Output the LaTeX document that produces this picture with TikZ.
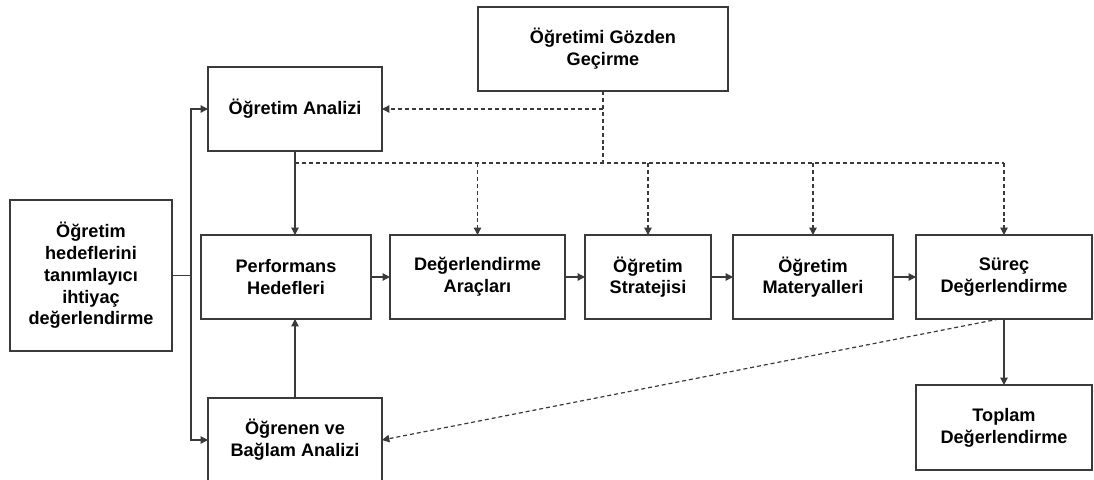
\documentclass[tikz,border=0pt]{standalone}
\usepackage{fontspec}
\setmainfont{Liberation Sans}
\usetikzlibrary{arrows.meta,calc}
\definecolor{ink}{HTML}{3A3A3A}
\begin{document}
\begin{tikzpicture}[x=0.75pt,y=-0.75pt,
  box/.style={draw=ink,line width=1.1pt,fill=white,inner sep=0pt,outer sep=0pt,
    align=center,minimum height=63pt,
    font=\fontsize{13.6pt}{16.3pt}\selectfont\bfseries},
  link/.style={draw=ink,line width=0.9pt,-{Triangle[length=5.5pt,width=5.5pt]}},
  plain/.style={draw=ink,line width=0.9pt},
  dlink/.style={link,dash pattern=on 3pt off 2.2pt},
  dline/.style={plain,dash pattern=on 3pt off 2.2pt}]
\clip (0,0) rectangle (1094,479);
\fill[white] (0,0) rectangle (1094,479);

% boxes
\node[box,minimum width=187.5pt] (gozden) at (603,49) {Öğretimi Gözden\\Geçirme};
\node[box,minimum width=130.5pt] (analiz) at (295,109) {Öğretim Analizi};
\node[box,minimum width=121.5pt,minimum height=113.25pt] (ihtiyac) at (91,275.5)
  {Öğretim\\hedeflerini\\tanımlayıcı\\ihtiyaç\\değerlendirme};
\node[box,minimum width=127.5pt] (perf) at (286,277) {Performans\\Hedefleri};
\node[box,minimum width=131.25pt] (arac) at (477.5,277) {Değerlendirme\\Araçları};
\node[box,minimum width=94.5pt] (strat) at (648,277) {Öğretim\\Stratejisi};
\node[box,minimum width=120pt] (mater) at (813,277) {Öğretim\\Materyalleri};
\node[box,minimum width=132pt] (surec) at (1004,277) {Süreç\\Değerlendirme};
\node[box,minimum width=130.5pt] (ogrenen) at (295,440) {Öğrenen ve\\Bağlam Analizi};
\node[box,minimum width=132pt,minimum height=63.75pt] (toplam) at (1004,427.5) {Toplam\\Değerlendirme};

% needs assessment feeds both analyses
\coordinate (split) at (191,0 |- ihtiyac.east);
\draw[plain] (ihtiyac.east) -- (split);
\draw[link] (split) |- (analiz.west);
\draw[link] (split) |- (ogrenen.west);

% analyses into performance objectives
\draw[link] (analiz.south) -- (analiz.south |- perf.north);
\draw[link] (ogrenen.north) -- (ogrenen.north |- perf.south);

% main chain
\draw[link] (perf) -- (arac);
\draw[link] (arac) -- (strat);
\draw[link] (strat) -- (mater);
\draw[link] (mater) -- (surec);
\draw[link] (surec.south) -- (toplam.north);

% revision feedback
\coordinate (rev) at ($(gozden.south)+(0,18)$);
\coordinate (bus) at ($(gozden.south)+(0,72)$);
\draw[dline] (gozden.south) -- (bus);
\draw[dlink] (rev) -- (rev -| analiz.east);
\draw[dline] (analiz.south |- bus) -- (surec.north |- bus);
\draw[dlink] (arac.north |- bus) -- (arac.north);
\draw[dlink] (strat.north |- bus) -- (strat.north);
\draw[dlink] (mater.north |- bus) -- (mater.north);
\draw[dlink] (surec.north |- bus) -- (surec.north);
\draw[dlink] ($(surec.south)+(-5,0)$) -- (ogrenen.east);
\end{tikzpicture}
\end{document}
